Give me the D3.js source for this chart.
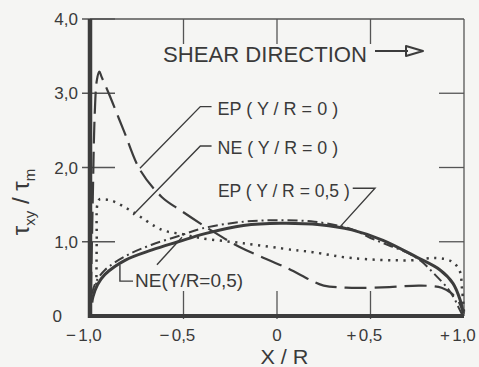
<!DOCTYPE html>
<html>
<head>
<meta charset="utf-8">
<script src="https://cdn.jsdelivr.net/npm/d3@7"></script>
<style>
  body { margin:0; background:#f5f5f3; }
  svg { display:block; }
  text { font-family:"Liberation Sans", "DejaVu Sans", sans-serif; fill:#3a3a3a; }
</style>
</head>
<body>
<svg></svg>
<script>
// curves, [X/R, tau_xy/tau_m]
var epCenter = [[-0.995,0.3],[-0.985,1.6],[-0.975,2.7],[-0.963,3.18],[-0.95,3.29],[-0.938,3.22],[-0.9,3.0],[-0.82,2.5],[-0.733,1.97],
  [-0.615,1.6],[-0.52,1.43],[-0.35,1.15],[-0.2,0.93],[0.05,0.65],[0.19,0.47],[0.25,0.41],[0.4,0.38],[0.6,0.39],[0.77,0.41],
  [0.88,0.38],[0.93,0.31],[0.97,0.2],[0.995,0.05]];
var neCenter = [[-0.966,0.42],[-0.964,1.0],[-0.961,1.5],[-0.95,1.57],[-0.92,1.57],[-0.88,1.55],[-0.77,1.40],[-0.615,1.16],[-0.5,1.1],
  [-0.41,1.05],[-0.18,0.98],[0.086,0.89],[0.19,0.86],[0.4,0.78],[0.71,0.75],[0.85,0.78],[0.93,0.74],[0.975,0.62],[0.99,0.35],[1.0,0.05]];
var epHalf = [[-0.99,0.3],[-0.97,0.45],[-0.92,0.62],[-0.8,0.82],[-0.67,0.96],[-0.51,1.09],[-0.4,1.18],[-0.18,1.27],[0.0,1.29],
  [0.2,1.27],[0.4,1.17],[0.5,1.05],[0.6,0.95],[0.7,0.85],[0.77,0.74],[0.84,0.57],[0.91,0.38],[0.945,0.25],[0.97,0.12],[0.99,0.02]];
var neHalf = [[-0.99,0.18],[-0.984,0.26],[-0.96,0.42],[-0.92,0.56],[-0.813,0.75],[-0.668,0.89],[-0.529,1.0],[-0.385,1.11],
  [-0.18,1.22],[0.02,1.25],[0.23,1.23],[0.4,1.16],[0.567,1.02],[0.749,0.79],[0.872,0.62],[0.941,0.44],[0.979,0.22],[0.997,0.03]];

var xTicks = [-1, -0.5, 0, 0.5, 1];
var xTickLabels = [["\u2212","1,0"],["\u2212","0,5"],["","0"],["+","0,5"],["+","1,0"]];
var yTicks = [0, 1, 2, 3, 4];
var yTickLabels = ["0","1,0","2,0","3,0","4,0"];

// labels: text, left X, baseline Y, width in X units, leader points
var labels = [
  {text:"EP ( Y / R = 0 )", x:-0.318, y:2.71, w:0.645, leader:[[-0.35,2.82],[-0.41,2.82],[-0.733,1.99]]},
  {text:"NE ( Y / R = 0 )", x:-0.318, y:2.18, w:0.645, leader:[[-0.35,2.29],[-0.41,2.29],[-0.77,1.36]]},
  {text:"EP ( Y / R = 0,5 )", x:-0.316, y:1.6, w:0.705, leader:[[0.405,1.72],[0.524,1.72],[0.337,1.2]]},
  {text:"NE(Y/R=0,5)", x:-0.759, y:0.39, w:0.578, leader:[[-0.77,0.47],[-0.84,0.47],[-0.84,0.69]]}
];
var extraLeader = [[-0.642,0.69],[-0.508,1.06]];

var W = 479, H = 367;
var svg = d3.select("svg").attr("width", W).attr("height", H);
var x = d3.scaleLinear().domain([-1, 1]).range([90, 464]);
var y = d3.scaleLinear().domain([0, 4]).range([316, 19]);
var ink = "#3c3c3c";

// frame: thin top/right
svg.append("line").attr("x1", x(-1)).attr("x2", x(1)).attr("y1", y(4)).attr("y2", y(4)).attr("stroke", "#555").attr("stroke-width", 1.3);
svg.append("line").attr("x1", x(1)).attr("x2", x(1)).attr("y1", y(4)).attr("y2", y(0)).attr("stroke", "#555").attr("stroke-width", 1.3);

// inner ticks
var tl = 25;
svg.selectAll(".ty").data(yTicks.slice(1)).enter().append("line")
  .attr("x1", x(-1) - 8).attr("x2", x(-1) + tl).attr("y1", d => y(d)).attr("y2", d => y(d))
  .attr("stroke", "#555").attr("stroke-width", 1.3);
svg.selectAll(".tyr").data([1, 2, 3]).enter().append("line")
  .attr("x1", x(1) - tl).attr("x2", x(1)).attr("y1", d => y(d)).attr("y2", d => y(d))
  .attr("stroke", "#555").attr("stroke-width", 1.3);
svg.selectAll(".tx").data([-0.5, 0, 0.5]).enter().append("line")
  .attr("x1", d => x(d)).attr("x2", d => x(d)).attr("y1", y(0) + 3).attr("y2", y(0) - tl)
  .attr("stroke", "#555").attr("stroke-width", 1.3);
svg.selectAll(".txt").data([-0.5, 0, 0.5]).enter().append("line")
  .attr("x1", d => x(d)).attr("x2", d => x(d)).attr("y1", y(4)).attr("y2", y(4) + tl)
  .attr("stroke", "#555").attr("stroke-width", 1.3);

// curves
var line = d3.line().x(d => x(d[0])).y(d => y(d[1])).curve(d3.curveCatmullRom.alpha(0.5));
var g = svg.append("g").attr("fill", "none").attr("stroke", ink);
g.append("path").datum(epCenter).attr("d", line).attr("stroke-width", 2.2).attr("stroke-dasharray", "22,8");
g.append("path").datum(neCenter).attr("d", line).attr("stroke-width", 2.5).attr("stroke-dasharray", "2.2,5.5");
g.append("path").datum(epHalf).attr("d", line).attr("stroke-width", 2).attr("stroke-dasharray", "10,4,2,4");
g.append("path").datum(neHalf).attr("d", line).attr("stroke-width", 3);

// thick left and bottom axes
svg.append("line").attr("x1", x(-1)).attr("x2", x(-1)).attr("y1", y(4)).attr("y2", y(0) + 2).attr("stroke", ink).attr("stroke-width", 4.5);
svg.append("line").attr("x1", x(-1) - 2).attr("x2", x(1)).attr("y1", y(0)).attr("y2", y(0)).attr("stroke", ink).attr("stroke-width", 4);

// tick labels
svg.selectAll(".yl").data(yTicks).enter().append("text")
  .attr("x", d => d === 0 ? 62 : x(-1) - 12).attr("y", d => y(d) + 6).attr("text-anchor", "end")
  .attr("font-size", 17).text((d, i) => yTickLabels[i]);
xTicks.forEach(function(t, i) {
  var lab = xTickLabels[i];
  svg.append("text").attr("x", x(t)).attr("y", y(0) + 25).attr("text-anchor", "middle")
    .attr("font-size", 17).text(lab[1]);
  if (lab[0]) {
    var half = lab[1].length > 1 ? 13 : 5;
    svg.append("text").attr("x", x(t) - half - 1).attr("y", y(0) + 25).attr("text-anchor", "end")
      .attr("font-size", 17).text(lab[0]);
  }
});

// axis titles
svg.append("text").attr("x", x(0.04)).attr("y", 364).attr("text-anchor", "middle")
  .attr("font-size", 20).attr("textLength", 48).attr("lengthAdjust", "spacingAndGlyphs").text("X / R");
var yt = svg.append("text").attr("transform", "translate(29,202) rotate(-90)").attr("text-anchor", "middle").attr("font-size", 24);
yt.append("tspan").text("\u03c4");
yt.append("tspan").attr("font-size", 15).attr("dy", 6).text("xy");
yt.append("tspan").attr("dy", -6).text(" / \u03c4");
yt.append("tspan").attr("font-size", 15).attr("dy", 6).text("m");

// shear direction
svg.append("text").attr("x", 163).attr("y", 62).attr("font-size", 22)
  .attr("textLength", 204).attr("lengthAdjust", "spacingAndGlyphs").text("SHEAR DIRECTION");
svg.append("line").attr("x1", 375).attr("x2", 408).attr("y1", 51).attr("y2", 51).attr("stroke", ink).attr("stroke-width", 2);
svg.append("path").attr("d", "M406,46 L423,51 L406,56 Z").attr("fill", "none").attr("stroke", ink).attr("stroke-width", 2).attr("stroke-linejoin", "round");

// curve labels and leaders
var leader = d3.line().x(d => x(d[0])).y(d => y(d[1]));
labels.forEach(function(l) {
  svg.append("text").attr("x", x(l.x)).attr("y", y(l.y)).attr("font-size", 18)
    .attr("textLength", l.w * 187).attr("lengthAdjust", "spacingAndGlyphs").text(l.text);
  svg.append("path").attr("d", leader(l.leader)).attr("fill", "none").attr("stroke", ink).attr("stroke-width", 1.4);
});
svg.append("path").attr("d", leader(extraLeader)).attr("fill", "none").attr("stroke", ink).attr("stroke-width", 1.4);
</script>
</body>
</html>
